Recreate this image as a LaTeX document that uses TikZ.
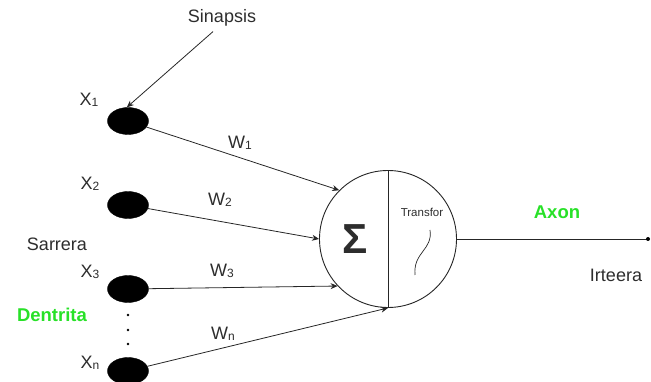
\documentclass[tikz,border=0pt]{standalone}
\usepackage{fontspec}
\setmainfont{Liberation Sans}
\usetikzlibrary{arrows.meta,shapes.geometric}
\definecolor{txt}{RGB}{45,45,45}
\definecolor{lblgreen}{RGB}{40,225,40}
\newcommand{\sbs}[1]{{\fontsize{12}{12}\selectfont\raisebox{-1pt}{#1}}}
\tikzset{
  label/.style={text=txt,font=\fontsize{18}{18}\selectfont,inner sep=0pt},
  greenlabel/.style={text=lblgreen,font=\fontsize{18.5}{18.5}\selectfont\bfseries,inner sep=0pt},
  dendrite/.style={ellipse,fill=black,draw=black,minimum width=41pt,minimum height=27pt,inner sep=0pt},
  neuron/.style={circle,draw=black!85,line width=0.9pt,minimum size=137pt,inner sep=0pt},
  wire/.style={draw=black!85,line width=0.8pt},
  arr/.style={wire,-{Stealth[length=7pt,width=6pt]}},
}
\begin{document}
\begin{tikzpicture}[x=1pt,y=-1pt]
\useasboundingbox (0,0) rectangle (651,382);

% inputs
\node[dendrite] (e1) at (128,121) {};
\node[dendrite] (e2) at (128,205) {};
\node[dendrite] (e3) at (128,289) {};
\node[dendrite] (en) at (128,371) {};

\node[label] (x1) at (89,100) {X\sbs{1}};
\node[label] (x2) at (90,184) {X\sbs{2}};
\node[label] (x3) at (90,272) {X\sbs{3}};
\node[label] (xn) at (90,363) {X\sbs{n}};

\node[label] (sarrera) at (57,244) {Sarrera};
\node[greenlabel] (dentrita) at (52,315) {Dentrita};

% vertical ellipsis between the third and the last input
\foreach \yy/\nm in {315/d1,330/d2,344/d3}
  \node[circle,fill=black,inner sep=0pt,minimum size=2.6pt] (\nm) at (128,\yy) {};

% synapse
\node[label] (sin) at (222,18) {Sinapsis};
\draw[arr] ([xshift=-9pt,yshift=-5pt]sin.south) -- (e1.95);

% neuron body
\node[neuron] (N) at (388,239) {};
\draw[wire] (N.north) -- (N.south);
\node[text=txt,inner sep=0pt,font=\fontsize{42}{42}\selectfont\bfseries] (sigma) at (355,239) {Σ};
\node[text=txt,inner sep=0pt,font=\fontsize{11.5}{11.5}\selectfont] (tr) at (422,212) {Transfor};
\coordinate (wa) at (430,230);
\coordinate (wb) at (415,275);
\draw[black!85,line width=0.7pt] (wa) .. controls (433,250) and (413,252) .. (wb);

% weighted connections
\draw[arr] (e1) -- (N.135);
\draw[arr] (e2) -- (N.180);
\draw[arr] (e3) -- (N.223);
\draw[arr] (en) -- (N.270);

\node[label] (w1) at (240,143) {W\sbs{1}};
\node[label] (w2) at (220,200) {W\sbs{2}};
\node[label] (w3) at (222,271) {W\sbs{3}};
\node[label] (wn) at (223,334) {W\sbs{n}};

% output
\coordinate (out) at (648,239);
\draw[wire] (N.east) -- (out);
\fill[black] (out) circle (2pt);
\node[greenlabel] (axon) at (557,212) {Axon};
\node[label] (irteera) at (616,275) {Irteera};
\end{tikzpicture}
\end{document}
